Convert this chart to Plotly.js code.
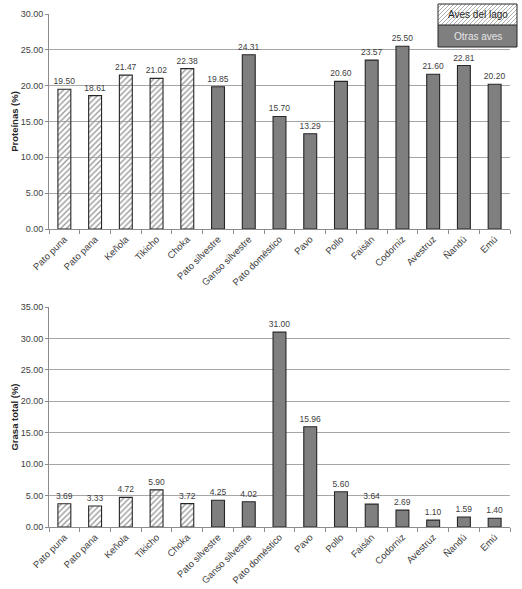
<!DOCTYPE html>
<html>
<head>
<meta charset="utf-8">
<script src="https://cdn.plot.ly/plotly-3.0.1.min.js"></script>
<style>
  html, body { margin: 0; padding: 0; background: #fff; }
  #chart { width: 522px; height: 589px; }
</style>
</head>
<body>
<div id="chart"></div>
<script>
// Birds from the lake vs other birds: protein and total fat (%)
const lakeBirds = ['Pato puna', 'Pato pana', 'Keñola', 'Tikicho', 'Choka'];
const otherBirds = ['Pato silvestre', 'Ganso silvestre', 'Pato doméstico', 'Pavo', 'Pollo',
  'Faisán', 'Codorniz', 'Avestruz', 'Ñandú', 'Emú'];
const lakeProtein = [19.50, 18.61, 21.47, 21.02, 22.38];
const otherProtein = [19.85, 24.31, 15.70, 13.29, 20.60, 23.57, 25.50, 21.60, 22.81, 20.20];
const lakeFat = [3.69, 3.33, 4.72, 5.90, 3.72];
const otherFat = [4.25, 4.02, 31.00, 15.96, 5.60, 3.64, 2.69, 1.10, 1.59, 1.40];
const seriesNames = ['Aves del lago', 'Otras aves'];

const allBirds = lakeBirds.concat(otherBirds);
const FONT = 'Liberation Sans, Arial, sans-serif';
const TXT = '#404040';

// page geometry (px) used to place the hand-made legend
const W = 522, H = 589;
const M = { l: 49, r: 12, t: 14, b: 62 };
const plotW = W - M.l - M.r, plotH = H - M.t - M.b;
const px = (x) => (x - M.l) / plotW;
const py = (y) => (H - M.b - y) / plotH;

function barTrace(x, y, name, xa, ya, lake) {
  const tf = { family: FONT, size: 8.5, color: TXT };
  return {
    type: 'bar', x: x, y: y, name: name, xaxis: xa, yaxis: ya,
    width: 0.42, showlegend: false, cliponaxis: false,
    text: y.map((v) => v.toFixed(2)), textposition: 'outside',
    constraintext: 'none',
    textfont: tf, outsidetextfont: tf,
    marker: lake
      ? { color: '#ffffff', line: { color: '#262626', width: 1.1 },
          pattern: { shape: '/', fgcolor: '#9a9a9a', size: 4, solidity: 0.35 } }
      : { color: '#7f7f7f', line: { color: '#262626', width: 1.1 } },
    hoverinfo: 'x+y'
  };
}

const data = [
  barTrace(lakeBirds, lakeProtein, seriesNames[0], 'x', 'y', true),
  barTrace(otherBirds, otherProtein, seriesNames[1], 'x', 'y', false),
  barTrace(lakeBirds, lakeFat, seriesNames[0], 'x2', 'y2', true),
  barTrace(otherBirds, otherFat, seriesNames[1], 'x2', 'y2', false)
];

function xAxis(anchor) {
  return {
    anchor: anchor, domain: [0, 1], type: 'category',
    categoryorder: 'array', categoryarray: allBirds,
    tickangle: -45, tickson: 'boundaries', ticks: 'outside', ticklen: 4,
    tickcolor: '#8c8c8c', showline: true, linecolor: '#8c8c8c', linewidth: 1,
    showgrid: false, automargin: false,
    tickfont: { family: FONT, size: 9.5, color: TXT }
  };
}

function yAxis(anchor, domain, max, title) {
  return {
    anchor: anchor, domain: domain, range: [0, max], dtick: 5, tickformat: '.2f',
    ticks: 'outside', ticklen: 3, tickcolor: '#8c8c8c',
    showline: true, linecolor: '#8c8c8c', linewidth: 1,
    gridcolor: '#a6a6a6', gridwidth: 1, zeroline: false, automargin: false,
    tickfont: { family: FONT, size: 9, color: TXT },
    title: { text: '<b>' + title + '</b>', font: { family: FONT, size: 9.5, color: '#262626' }, standoff: 0 }
  };
}

// legend box drawn as a small two-row table in the top right corner
const box = { x0: 438, x1: 517, y0: 4, ym: 25, y1: 47 };
let hatch = '';
const hh = box.ym - box.y0, hw = box.x1 - box.x0;
for (let t = -hh; t < hw; t += 4) {
  const s0 = Math.max(0, -t), s1 = Math.min(hh, hw - t);
  if (s1 <= s0) continue;
  hatch += 'M' + px(box.x0 + t + s0) + ',' + py(box.ym - s0) +
           'L' + px(box.x0 + t + s1) + ',' + py(box.ym - s1);
}

const shapes = [
  { type: 'rect', xref: 'paper', yref: 'paper', x0: px(box.x0), x1: px(box.x1), y0: py(box.y0), y1: py(box.ym),
    fillcolor: '#ffffff', line: { width: 0 }, layer: 'above' },
  { type: 'path', xref: 'paper', yref: 'paper', path: hatch, line: { color: '#b0b0b0', width: 1 }, layer: 'above' },
  { type: 'rect', xref: 'paper', yref: 'paper', x0: px(box.x0), x1: px(box.x1), y0: py(box.ym), y1: py(box.y1),
    fillcolor: '#7f7f7f', line: { width: 0 }, layer: 'above' },
  { type: 'rect', xref: 'paper', yref: 'paper', x0: px(box.x0), x1: px(box.x1), y0: py(box.y0), y1: py(box.y1),
    fillcolor: 'rgba(0,0,0,0)', line: { color: '#262626', width: 1 }, layer: 'above' },
  { type: 'line', xref: 'paper', yref: 'paper', x0: px(box.x0), x1: px(box.x1), y0: py(box.ym), y1: py(box.ym),
    line: { color: '#262626', width: 1 }, layer: 'above' }
];

const annotations = [
  { xref: 'paper', yref: 'paper', x: px((box.x0 + box.x1) / 2), y: py((box.y0 + box.ym) / 2),
    xanchor: 'center', yanchor: 'middle',
    text: seriesNames[0], showarrow: false, font: { family: FONT, size: 10, color: '#262626' } },
  { xref: 'paper', yref: 'paper', x: px((box.x0 + box.x1) / 2), y: py((box.ym + box.y1) / 2),
    xanchor: 'center', yanchor: 'middle',
    text: seriesNames[1], showarrow: false, font: { family: FONT, size: 10, color: '#e6e6e6' } }
];

const layout = {
  width: W, height: H,
  margin: M,
  paper_bgcolor: '#ffffff', plot_bgcolor: '#ffffff',
  barmode: 'overlay',
  showlegend: false,
  xaxis: xAxis('y'),
  yaxis: yAxis('x', [1 - 215 / plotH, 1], 30, 'Proteínas (%)'),
  xaxis2: xAxis('y2'),
  yaxis2: yAxis('x2', [0, 220 / plotH], 35, 'Grasa total (%)'),
  shapes: shapes,
  annotations: annotations
};

Plotly.newPlot('chart', data, layout, { displayModeBar: false, staticPlot: true });
</script>
</body>
</html>
